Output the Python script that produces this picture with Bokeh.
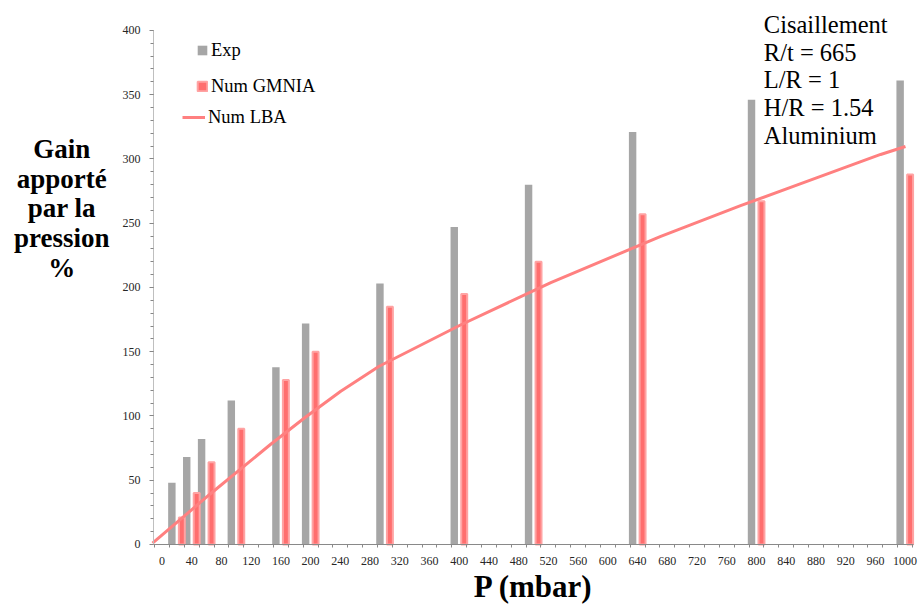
from bokeh.plotting import figure
from bokeh.models import ColumnDataSource, Range1d, FixedTicker, Label, Legend, LegendItem
from bokeh.transform import dodge
from bokeh.embed import file_html
from bokeh.resources import INLINE

# ---- data ----
pressure = [20, 40, 60, 100, 160, 200, 300, 400, 500, 640, 800, 1000]
exp_gain = [48, 68, 82, 112, 138, 172, 203, 247, 280, 321, 346, 361]
gmnia_gain = [21, 40, 64, 90, 128, 150, 185, 195, 220, 257, 267, 288]

lba_pressure = [0, 77, 157, 203, 250, 301, 409, 529, 675, 781, 861, 967, 1000]
lba_gain = [1, 39.5, 78, 99, 119.3, 138.7, 170.8, 203.8, 239.8, 263.7, 280.8, 303.5, 309.7]

x_tick_labels = list(range(0, 1001, 40))
y_tick_labels = list(range(0, 401, 50))

info_lines = ["Cisaillement", "R/t = 665", "L/R = 1", "H/R = 1.54", "Aluminium"]
ylabel_lines = ["Gain", "apporté", "par la", "pression", "%"]

SERIF = "Liberation Serif"
W, H = 918, 606

# frame spans the whole canvas; axes are drawn at fixed locations inside it
p = figure(width=W, height=H, output_backend="svg", toolbar_location=None,
           x_range=Range1d(-217.3, 1018.0), y_range=Range1d(-48.25, 423.3),
           min_border=0, min_border_left=0, min_border_right=0,
           min_border_top=0, min_border_bottom=0)
p.extra_x_ranges = {"lba": Range1d(-201.9, 1017.3)}

p.xgrid.visible = False
p.ygrid.visible = False
p.outline_line_color = None
p.background_fill_color = "white"
p.border_fill_color = "white"

src = ColumnDataSource(dict(P=pressure, exp=exp_gain, gmnia=gmnia_gain))
r_exp = p.vbar(x=dodge("P", -6.7, range=p.x_range), top="exp", width=10, bottom=0,
               source=src, fill_color="#A6A6A6", line_color=None)
r_gm = p.vbar(x=dodge("P", 6.7, range=p.x_range), top="gmnia", width=8, bottom=0,
              source=src, fill_color="#FF6E6E", line_color="#FFA3A3", line_width=2)
lsrc = ColumnDataSource(dict(P=lba_pressure, g=lba_gain))
r_lba = p.line("P", "g", source=lsrc, x_range_name="lba", line_color="#FF8080", line_width=3)

# x axis
xa = p.xaxis[0]
xa.fixed_location = 0
xa.bounds = (-11.44, 1011.3)
xa.ticker = FixedTicker(ticks=x_tick_labels, minor_ticks=list(range(-10, 1011, 20)))
xa.major_tick_out = 0
xa.major_tick_in = 0
xa.minor_tick_out = 3
xa.minor_tick_in = 0
xa.axis_line_color = "#898989"
xa.minor_tick_line_color = "#898989"
xa.major_label_text_font = SERIF
xa.major_label_text_font_size = "12px"
xa.major_label_text_color = "#262626"
xa.major_label_standoff = 10

ya = p.yaxis[0]
ya.fixed_location = -11.44
ya.bounds = (0, 400)
ya.ticker = FixedTicker(ticks=y_tick_labels, minor_ticks=list(range(0, 401, 10)))
ya.major_tick_out = 4
ya.major_tick_in = 0
ya.minor_tick_out = 3
ya.minor_tick_in = 0
ya.axis_line_color = "#BFBFBF"
ya.major_tick_line_color = "#868686"
ya.minor_tick_line_color = "#868686"
ya.major_label_text_font = SERIF
ya.major_label_text_font_size = "12px"
ya.major_label_text_color = "#262626"
ya.major_label_standoff = 9


def add_legend(renderer, text, loc, gw):
    lg = Legend(items=[LegendItem(label=text, renderers=[renderer])], location=loc,
                padding=0, margin=0, spacing=0, border_line_color=None,
                background_fill_alpha=0, glyph_width=gw, glyph_height=12,
                label_standoff=3, label_height=22,
                label_text_font=SERIF, label_text_font_size="18.5px",
                label_text_color="black")
    p.add_layout(lg)


add_legend(r_exp, "Exp", (196, H - 50 - 11), 12)
add_legend(r_gm, "Num GMNIA", (196, H - 86 - 11), 12)
add_legend(r_lba, "Num LBA", (182, H - 117 - 11), 23)

# info text block (screen units, from bottom-left of the canvas)
info_base = [32.3, 60.0, 87.7, 115.7, 143.3]
for t, yb in zip(info_lines, info_base):
    p.add_layout(Label(x=763.3, y=H - (yb - 8.5), x_units="screen", y_units="screen", text=t,
                       text_font=SERIF, text_font_size="24.5px",
                       text_baseline="alphabetic", text_align="left", text_color="black"))

# y axis title (horizontal, multi-line, bold)
for i, t in enumerate(ylabel_lines):
    yb = 158.3 + 29.7 * i - 10
    p.add_layout(Label(x=61.3, y=H - yb, x_units="screen", y_units="screen", text=t,
                       text_font=SERIF, text_font_size="27px", text_font_style="bold",
                       text_align="center", text_baseline="alphabetic", text_color="black"))

# x axis title
p.add_layout(Label(x=533, y=H - (597 - 10.8), x_units="screen", y_units="screen",
                   text="P (mbar)", text_font=SERIF, text_font_size="31px",
                   text_font_style="bold", text_align="center", text_baseline="alphabetic",
                   text_color="black"))

open("out.html", "w").write(file_html(p, INLINE))
